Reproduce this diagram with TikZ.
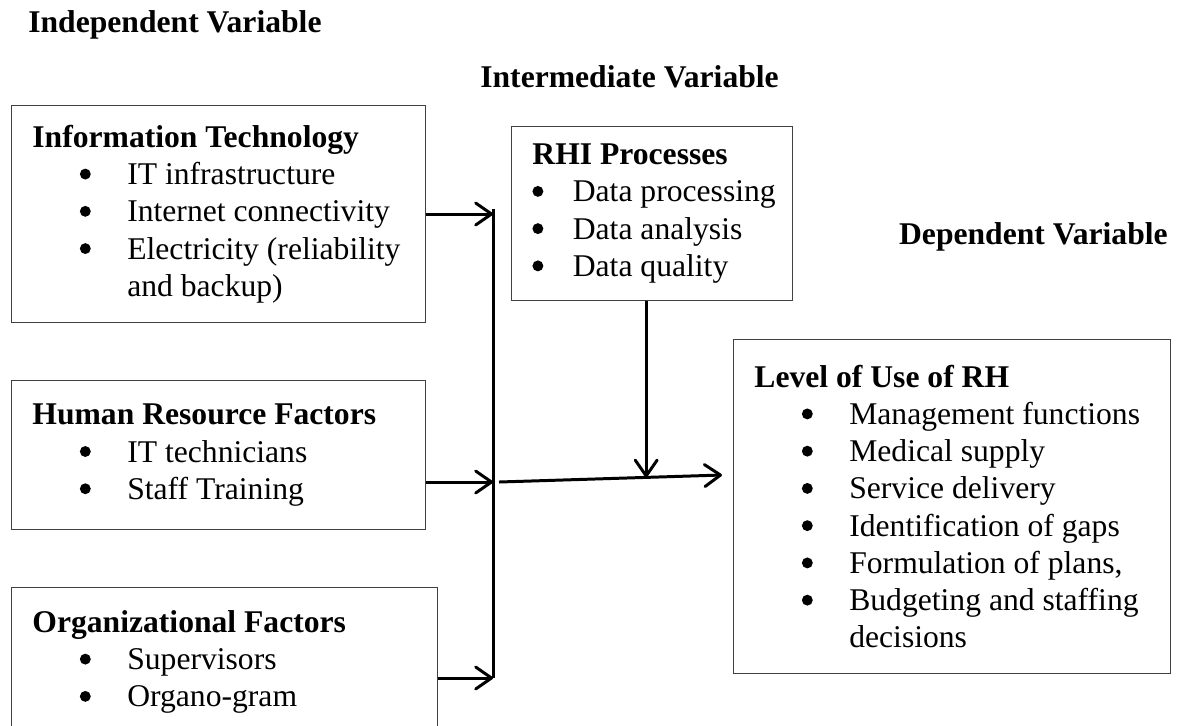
\documentclass[tikz,border=0pt]{standalone}
\usepackage{fontspec}
\setmainfont{Liberation Serif}
\usetikzlibrary{arrows.meta,positioning,calc}

% bullet lines inside the boxes
\newcommand{\bigdot}{\tikz[x=1pt, y=1pt, baseline=-6pt]\fill (0,0) circle (3.1);}
\newcommand{\bul}[1]{\hspace*{27pt}\makebox[27pt][l]{\bigdot}#1}
\newcommand{\rbul}[1]{\makebox[23pt][l]{\bigdot}#1}

\tikzset{
  frame/.style={draw=black!75, line width=0.7pt, anchor=north west, inner sep=0pt},
  entry/.style={align=left, inner xsep=12pt, inner ysep=0pt,
                font=\fontsize{18}{21.2}\selectfont},
  title/.style={inner sep=0pt, font=\bfseries\fontsize{18}{21.2}\selectfont},
  flow/.style={line width=1.7pt, -{Straight Barb[length=9pt,width=12.5pt,round]}},
  bar/.style={line width=1.7pt}
}

\begin{document}
\begin{tikzpicture}[x=0.02cm, y=-0.02cm]
  \useasboundingbox (0,0) rectangle (1185,725);

  % column headings
  \node[title, anchor=base west] (indep) at (28,32) {Independent Variable};
  \node[title, anchor=base west] (inter) at (480,87) {Intermediate Variable};
  \node[title, anchor=base east] (dep) at (1168,244) {Dependent Variable};

  % independent variables
  \node[frame, minimum width=8.28cm, minimum height=4.34cm] (it) at (11,105) {};
  \node[entry, right=0pt of it.west] (it text)
    {\textbf{Information Technology}\\
     \bul{IT infrastructure}\\
     \bul{Internet connectivity}\\
     \bul{Electricity (reliability}\\
     \hspace*{54pt}and backup)};

  \node[frame, minimum width=8.28cm, minimum height=2.98cm] (hr) at (11,380) {};
  \node[entry, right=0pt of hr.west] (hr text)
    {\textbf{Human Resource Factors}\\
     \bul{IT technicians}\\
     \bul{Staff Training}};

  \node[frame, minimum width=8.52cm, minimum height=2.98cm] (org) at (11,587) {};
  \node[entry, right=0pt of org.west] (org text)
    {\textbf{Organizational Factors}\\
     \bul{Supervisors}\\
     \bul{Organo-gram}};

  % intermediate variable
  \node[frame, minimum width=5.62cm, minimum height=3.48cm] (rhi) at (511,126) {};
  \node[entry, right=0pt of rhi.west] (rhi text)
    {\textbf{RHI Processes}\\
     \rbul{Data processing}\\
     \rbul{Data analysis}\\
     \rbul{Data quality}};

  % dependent variable
  \node[frame, minimum width=8.74cm, minimum height=6.68cm] (use) at (733,339) {};
  \node[entry, right=0pt of use.west] (use text)
    {\textbf{Level of Use of RH}\\
     \bul{Management functions}\\
     \bul{Medical supply}\\
     \bul{Service delivery}\\
     \bul{Identification of gaps}\\
     \bul{Formulation of plans,}\\
     \bul{Budgeting and staffing}\\
     \hspace*{54pt}decisions};

  % collecting bar
  \coordinate (j1) at (493,214);
  \coordinate (j2) at (493,482);
  \coordinate (j3) at (493,678);
  \draw[bar] ([yshift=0.1cm]j1) -- (j3);
  \draw[flow] (it.east |- j1) -- (j1);
  \draw[flow] (hr.east |- j2) -- (j2);
  \draw[flow] (org.east |- j3) -- (j3);

  % main arrow and moderating arrow
  \coordinate (src) at (499,482);
  \coordinate (dst) at (722,475);
  \draw[flow] (src) -- (dst);
  \coordinate (mod) at ($(src)!0.66!(dst)$);
  \draw[flow] (rhi.south -| mod) -- (mod);
\end{tikzpicture}
\end{document}
